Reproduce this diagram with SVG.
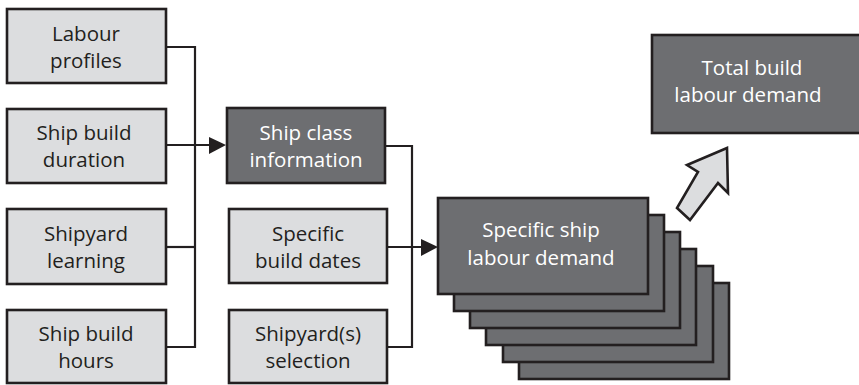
<svg xmlns="http://www.w3.org/2000/svg" width="859" height="385" viewBox="0 0 859 385">
<defs>
<style>
.light{fill:#dcdddf;stroke:#231f20;stroke-width:2.6}
.dark{fill:#6d6e71;stroke:#231f20;stroke-width:2.6}
.t{font-family:"Open Sans","Noto Sans",sans-serif;font-size:20.5px;text-anchor:middle;fill:#231f20}
.w{fill:#ffffff}
.c{fill:none;stroke:#231f20;stroke-width:2.2}
</style>
</defs>
<rect width="859" height="385" fill="#ffffff"/>
<g id="connectors">
<polyline class="c" points="166,47 195,47 195,347 166,347"/>
<line class="c" x1="166" y1="247" x2="195" y2="247"/>
<path d="M166,145 L212,145" class="c"/>
<path d="M209,137 L226,145 L209,154 z" fill="#231f20"/>
<polyline class="c" points="386,146 412,146 412,347 388,347"/>
<path d="M388,247 L424,247" class="c"/>
<path d="M421,239 L438,247 L421,256 z" fill="#231f20"/>
</g>
<g id="labour-profiles">
<rect class="light" x="7" y="9" width="159" height="74"/>
<text class="t" x="86" y="41">Labour</text>
<text class="t" x="86" y="68">profiles</text>
</g>
<g id="ship-build-duration">
<rect class="light" x="7" y="109" width="159" height="74"/>
<text class="t" x="84" y="140">Ship build</text>
<text class="t" x="84" y="167">duration</text>
</g>
<g id="shipyard-learning">
<rect class="light" x="7" y="209" width="159" height="75"/>
<text class="t" x="86" y="241">Shipyard</text>
<text class="t" x="86" y="268">learning</text>
</g>
<g id="ship-build-hours">
<rect class="light" x="7" y="310" width="159" height="73"/>
<text class="t" x="86" y="341">Ship build</text>
<text class="t" x="86" y="368">hours</text>
</g>
<g id="ship-class-information">
<rect class="dark" x="227" y="108" width="158" height="75"/>
<text class="t w" x="306" y="140">Ship class</text>
<text class="t w" x="306" y="167">information</text>
</g>
<g id="specific-build-dates">
<rect class="light" x="229" y="209" width="158" height="74"/>
<text class="t" x="308" y="241">Specific</text>
<text class="t" x="308" y="268">build dates</text>
</g>
<g id="shipyard-selection">
<rect class="light" x="229" y="310" width="158" height="73"/>
<text class="t" x="308" y="341">Shipyard(s)</text>
<text class="t" x="308" y="368">selection</text>
</g>
<g id="specific-ship-labour-demand">
<rect class="dark" x="519" y="283" width="210" height="96"/>
<rect class="dark" x="503" y="266" width="210" height="96"/>
<rect class="dark" x="486" y="249" width="210" height="96"/>
<rect class="dark" x="470" y="232" width="210" height="96"/>
<rect class="dark" x="454" y="215" width="210" height="96"/>
<rect class="dark" x="438" y="198" width="210" height="96"/>
<text class="t w" x="541" y="237">Specific ship</text>
<text class="t w" x="541" y="265">labour demand</text>
</g>
<g id="total-build-labour-demand">
<rect class="dark" x="652" y="35" width="210" height="98"/>
<text class="t w" x="752" y="75">Total build</text>
<text class="t w" x="748" y="102">labour demand</text>
</g>
<g id="big-arrow">
<polygon points="727,148 728,193 718,183 690,220 677,208 698,172 687,165" fill="#dcdddf" stroke="#231f20" stroke-width="2.6" stroke-linejoin="miter"/>
</g>
</svg>
